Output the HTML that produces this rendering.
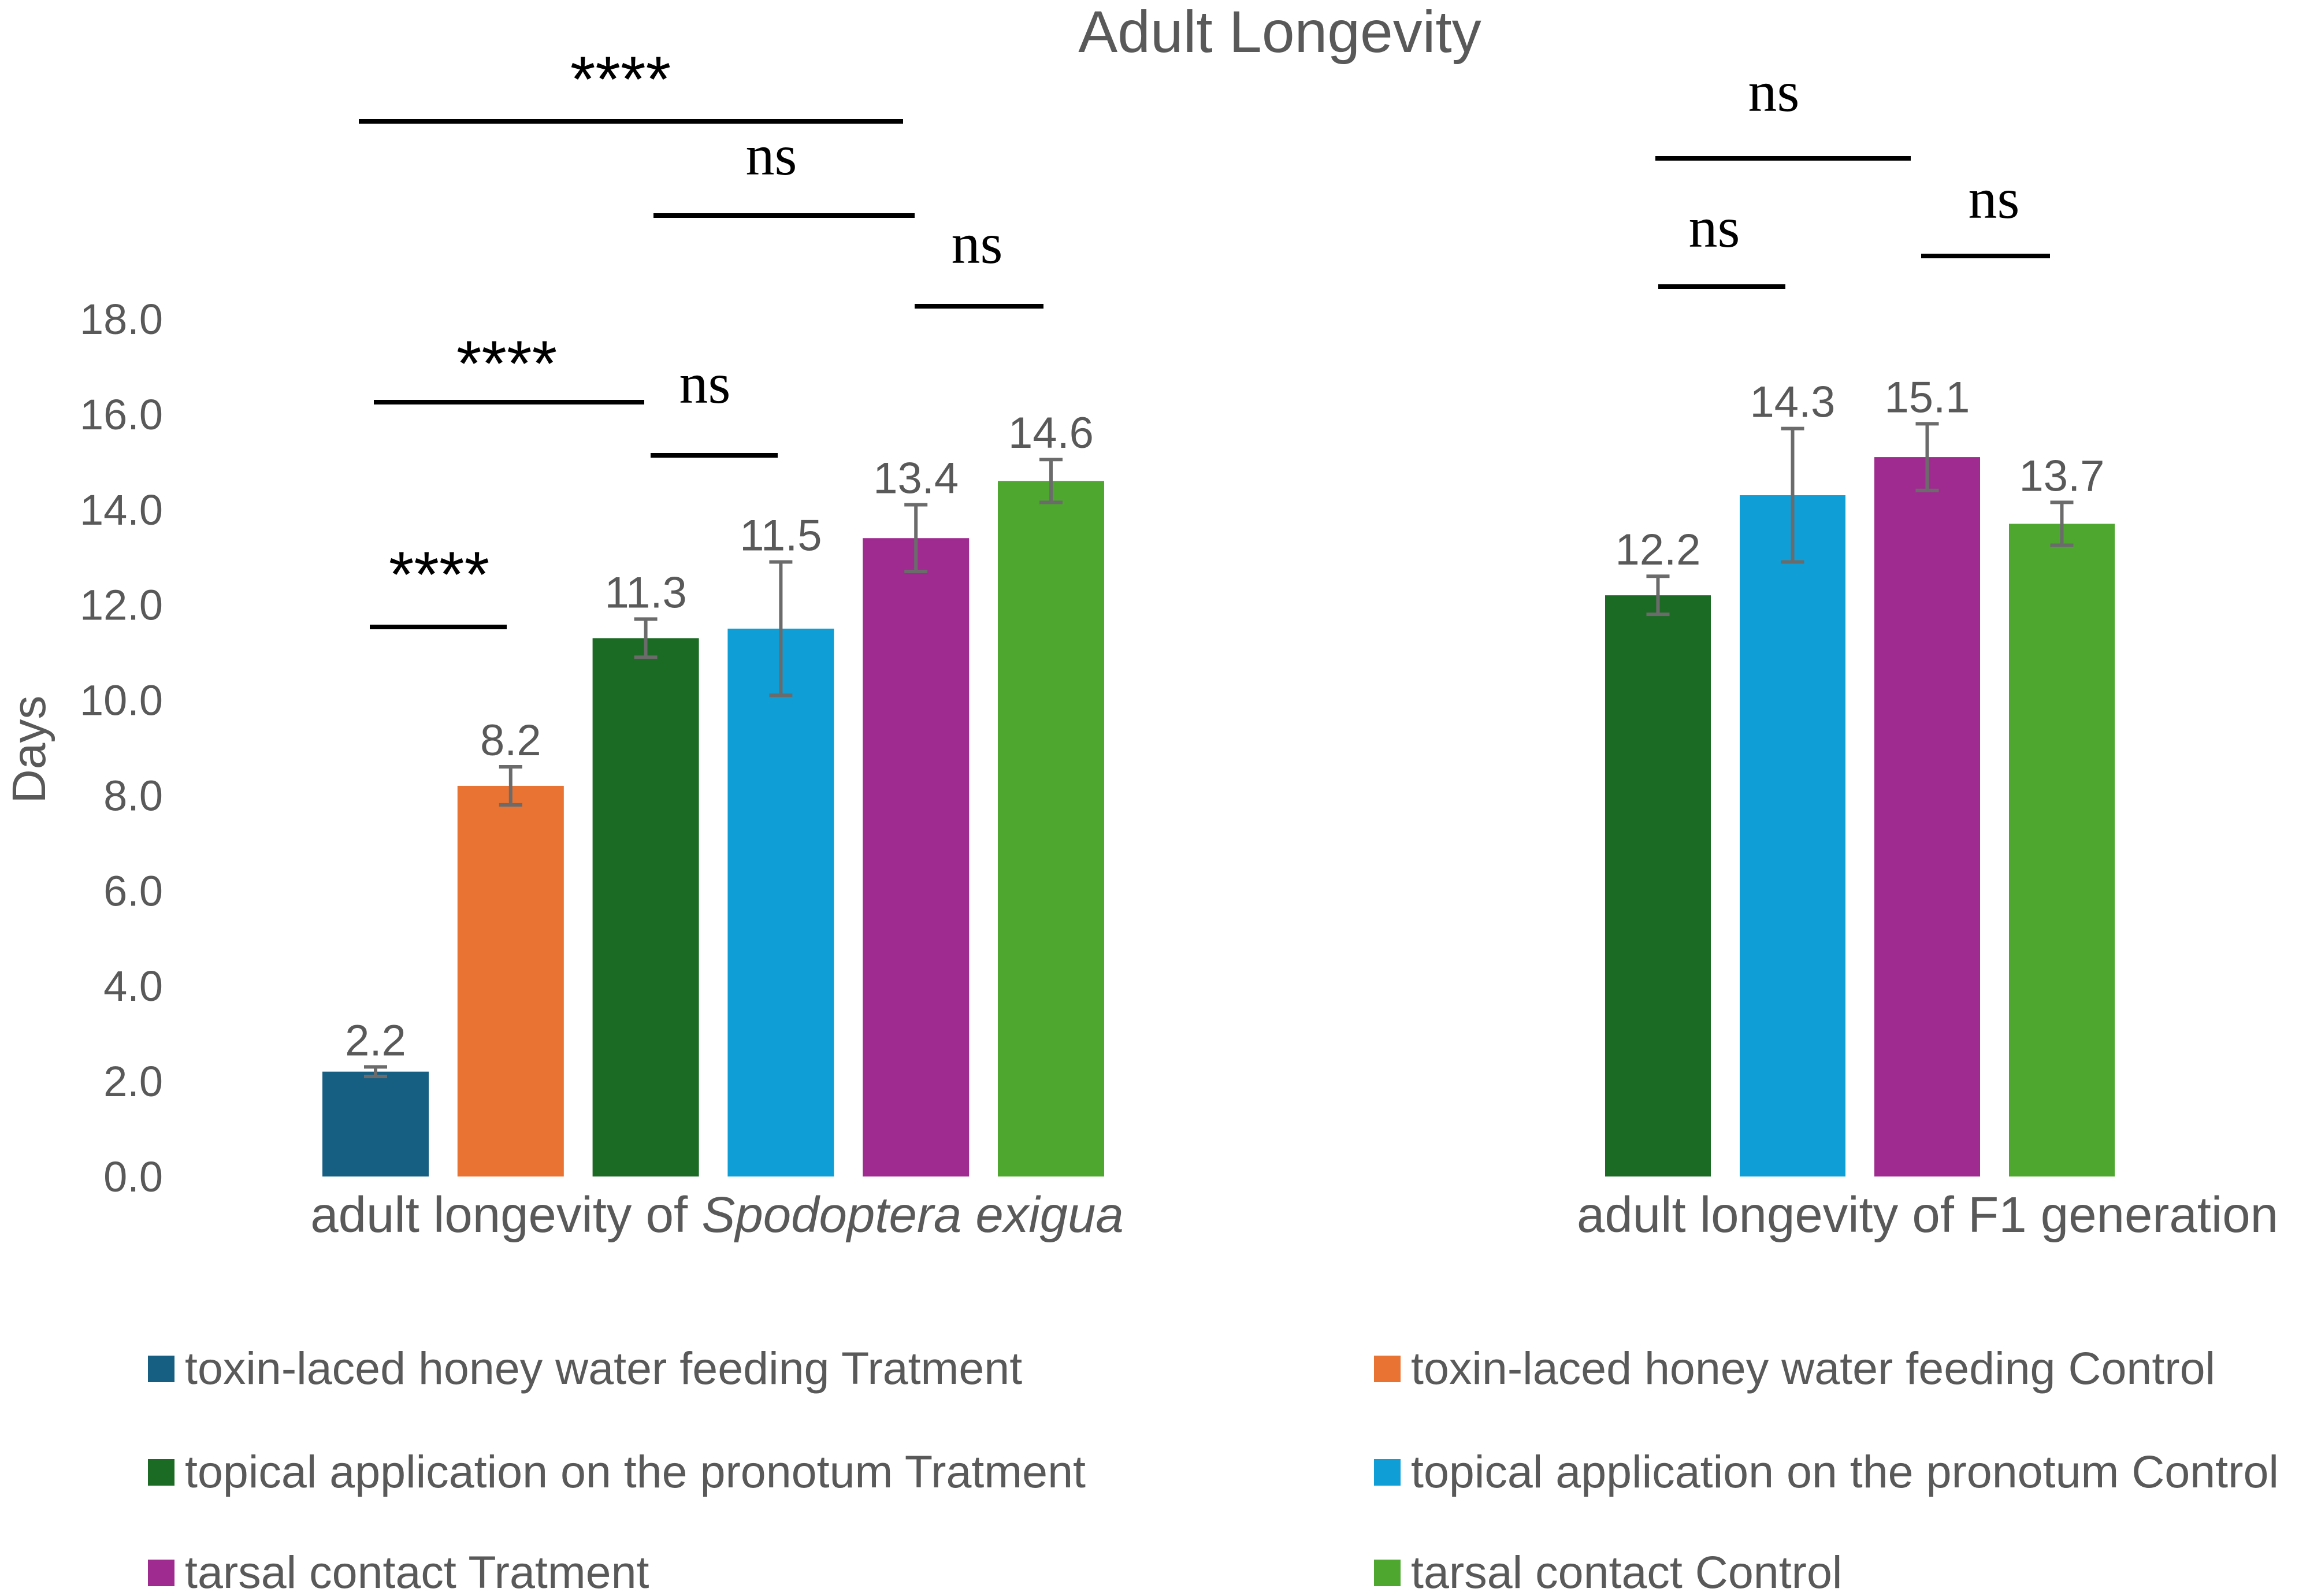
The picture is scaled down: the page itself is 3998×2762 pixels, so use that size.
<!DOCTYPE html>
<html><head><meta charset="utf-8"><style>
html,body{margin:0;padding:0;background:#fff;}
svg{display:block;font-family:"Liberation Sans",sans-serif;}
</style></head><body>
<svg id="chart" width="3998" height="2762" viewBox="0 0 3998 2762">
<text x="2215" y="90" font-size="102" fill="#595959" text-anchor="middle">Adult Longevity</text>
<text transform="translate(78,1297) rotate(-90)" font-size="82" fill="#595959" text-anchor="middle">Days</text>
<g id="yticks"></g><g id="bars"></g><g id="sig"></g><g id="legend"></g>
<text x="1241" y="2132" font-size="87" fill="#595959" text-anchor="middle">adult longevity of <tspan font-style="italic">Spodoptera exigua</tspan></text>
<text x="3336" y="2132" font-size="87" fill="#595959" text-anchor="middle">adult longevity of F1 generation</text>
</svg>
<script>
const ticks=[0,2,4,6,8,10,12,14,16,18];
const values1=[2.2,8.2,11.3,11.5,13.4,14.6];
const errors1=[0.1,0.4,0.4,1.4,0.7,0.45];
const values2=[12.2,14.3,15.1,13.7];
const errors2=[0.4,1.4,0.7,0.45];
const colors1=["#175f82","#e87333","#1b6b24","#0f9ed6","#a02b90","#4ea72e"];
const colors2=["#1b6b24","#0f9ed6","#a02b90","#4ea72e"];
const legendLabels=["toxin-laced honey water feeding Tratment","toxin-laced honey water feeding Control","topical application on the pronotum Tratment","topical application on the pronotum Control","tarsal contact Tratment","tarsal contact Control"];
const NS="http://www.w3.org/2000/svg";
const y0=2036,y18=552;
function y(v){return y0-(v/18)*(y0-y18);}
function mk(t,a,p){const e=document.createElementNS(NS,t);for(const k in a)e.setAttribute(k,a[k]);p.appendChild(e);return e;}
const yt=document.getElementById('yticks');
ticks.forEach(t=>{const e=mk('text',{x:282,y:y(t)+26,'font-size':74,fill:'#595959','text-anchor':'end'},yt);e.textContent=t.toFixed(1);

});
const bg=document.getElementById('bars');
function drawGroup(vals,errs,cols,x0,pitch,w,prefix){
vals.forEach((v,i)=>{const x=x0+i*pitch;
const r=mk('rect',{x:x,y:y(v),width:w,height:y0-y(v),fill:cols[i]},bg);


const cx=x+w/2,t=y(v+errs[i]),b=y(v-errs[i]);
const eb=mk('path',{d:`M${cx},${t}V${b}M${cx-20},${t}H${cx+20}M${cx-20},${b}H${cx+20}`,stroke:'#6b6b6b','stroke-width':6,fill:'none'},bg);


const l=mk('text',{x:cx,y:t-20,'font-size':76,fill:'#595959','text-anchor':'middle'},bg);l.textContent=v.toFixed(1);

});}
drawGroup(values1,errors1,colors1,558,233.8,184,'spodoptera');
drawGroup(values2,errors2,colors2,2778,233,183,'f1');
const sigs=[["****",1074,128,621,1563,210],["ns",1335,300,1131,1583,373],["ns",1691,453,1583,1806,530],["****",877,620,647,1115,696],["ns",1220,695,1126,1346,788],["****",760,985,640,877,1085],
["ns",3070,190,2865,3307,274],["ns",2967,425,2870,3090,496],["ns",3451,375,3325,3548,443]];
const sg=document.getElementById('sig');
sigs.forEach(s=>{const star=s[0]==="****";
const t=mk('text',{x:s[1],y:s[2]+(star?48:2),'font-size':star?112:100,fill:'#000','text-anchor':'middle','font-family':star?'"Liberation Sans",sans-serif':'"Liberation Serif",serif'},sg);t.textContent=s[0];


const l=mk('line',{x1:s[3],x2:s[4],y1:s[5],y2:s[5],stroke:'#000','stroke-width':8},sg);

});
const lg=document.getElementById('legend');
const lcols=["#175f82","#e87333","#1b6b24","#0f9ed6","#a02b90","#4ea72e"];
legendLabels.forEach((s,i)=>{const col=i%2,row=Math.floor(i/2);const x=col?2378:256,yy=[2369,2548,2722][row];
const g=mk('g',{},lg);


mk('rect',{x:x,y:yy-23,width:46,height:46,fill:lcols[i]},g);
const t=mk('text',{x:x+64,y:yy+26,'font-size':79,fill:'#595959'},g);t.textContent=s;});
</script>
</body></html>
